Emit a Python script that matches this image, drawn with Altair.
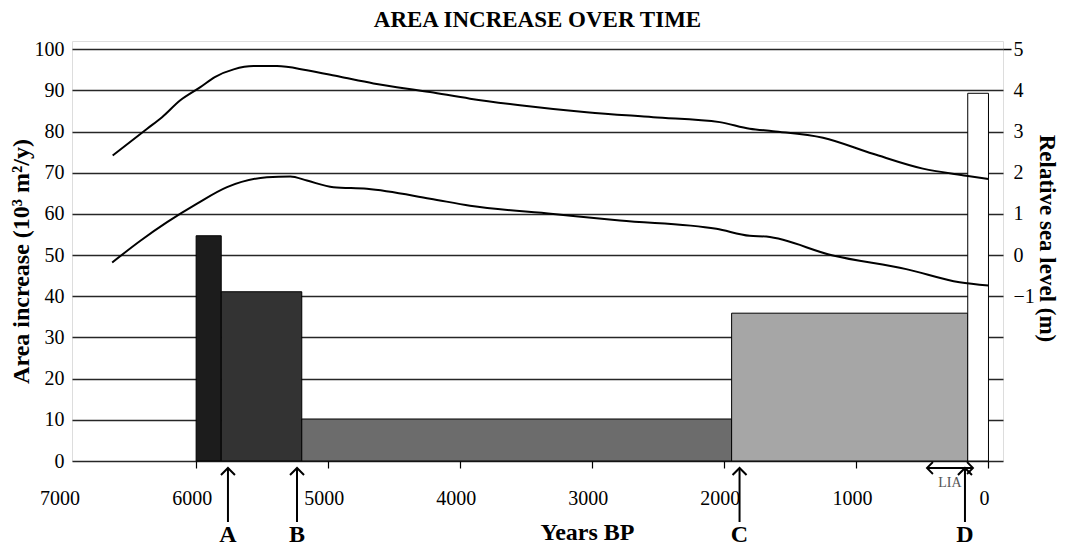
import altair as alt
import pandas as pd

SERIF = "Liberation Serif"

# ---- data ----
tick_years = [7000, 6000, 5000, 4000, 3000, 2000, 1000, 0]
axis_tick_years = [6000, 5000, 4000, 3000, 2000, 1000, 0]

bar_ids = ["p1", "p2", "p3", "p4", "p5"]
bar_start = [6000, 5810, 5200, 1945, 157]
bar_end = [5810, 5200, 1945, 157, 0]
bar_value = [54.7, 41.1, 10.2, 35.9, 89.3]
bar_colors = ["#1c1c1c", "#333333", "#6c6c6c", "#a6a6a6", "#ffffff"]

upper_years = [6632, 6371, 6258, 6120, 5968, 5855, 5716, 5565, 5388, 5161, 4909, 4657,
               4228, 3926, 3548, 3043, 2539, 2035, 1808, 1632, 1253, 875, 497, 169, 0]
upper_level = [2.42, 3.07, 3.35, 3.76, 4.08, 4.33, 4.51, 4.59, 4.59, 4.49, 4.33, 4.17,
               3.96, 3.80, 3.64, 3.47, 3.35, 3.23, 3.07, 3.01, 2.85, 2.46, 2.10, 1.93, 1.85]
lower_years = [6636, 6422, 6220, 5993, 5766, 5464, 5287, 5161, 4960, 4707, 4228, 3926,
               3296, 2791, 2060, 1808, 1682, 1178, 623, 219, 0]
lower_level = [-0.18, 0.35, 0.80, 1.25, 1.65, 1.89, 1.91, 1.81, 1.65, 1.61, 1.37, 1.20,
               1.00, 0.84, 0.64, 0.47, 0.45, -0.01, -0.34, -0.66, -0.74]

arrow_labels = ["A", "B", "C", "D"]
arrow_years = [5759, 5236, 1885, 178]
lia_start = [466]
lia_end = [117]
lia_label = ["LIA"]

# ---- tables ----
bars_df = pd.DataFrame({"id": bar_ids, "start": bar_start, "end": bar_end, "value": bar_value})
lines_df = pd.concat([
    pd.DataFrame({"series": "upper", "year": upper_years, "level": upper_level,
                  "idx": range(len(upper_years))}),
    pd.DataFrame({"series": "lower", "year": lower_years, "level": lower_level,
                  "idx": range(len(lower_years))}),
])
ticks_df = pd.DataFrame({"year": tick_years, "label": [str(t) for t in tick_years]})
arrows_df = pd.DataFrame({"year": arrow_years, "label": arrow_labels})
lia_df = pd.DataFrame({"start": lia_start, "end": lia_end, "label": lia_label,
                       "mid": [(a + b) / 2 for a, b in zip(lia_start, lia_end)]})

xs = alt.Scale(domain=[6940, -110], nice=False, zero=False)
x_axis = alt.Axis(values=axis_tick_years, labels=False, ticks=True, tickSize=7,
                  tickColor="black", tickWidth=1.2, domain=False, grid=False,
                  title="Years BP", titleFont=SERIF, titleFontSize=24, titleFontWeight="bold",
                  titleColor="black", titleX=515, titleY=78, titleBaseline="alphabetic")

left_axis = alt.Axis(values=list(range(0, 101, 10)), grid=True, gridColor="#262626",
                     gridWidth=1.5, ticks=False, domain=False, labelFont=SERIF,
                     labelFontSize=20, labelColor="black", labelPadding=8,
                     title="Area increase (10³ m²/y)", titleFont=SERIF, titleFontSize=24,
                     titleFontWeight="bold", titleColor="black", titlePadding=1, titleY=220)

right_axis = alt.Axis(orient="right", values=[-1, 0, 1, 2, 3, 4, 5], grid=False, domain=False,
                      ticks=True, tickSize=8, tickWidth=1.5,
                      tickColor=alt.condition("datum.value == 5", alt.value("black"),
                                              alt.value("transparent")),
                      labelFont=SERIF, labelFontSize=20, labelColor="black", labelPadding=2,
                      title="Relative sea level (m)", titleFont=SERIF, titleFontSize=23,
                      titleFontWeight="bold", titleColor="black", titlePadding=0, titleY=197)

bars = alt.Chart(bars_df).mark_rect(stroke="black", strokeWidth=1).encode(
    x=alt.X("start:Q", scale=xs, axis=x_axis),
    x2="end:Q",
    y=alt.Y("value:Q", scale=alt.Scale(domain=[0, 102], nice=False), axis=left_axis),
    y2=alt.datum(0),
    color=alt.Color("id:N", scale=alt.Scale(domain=bar_ids, range=bar_colors), legend=None),
)

lines = alt.Chart(lines_df).mark_line(interpolate="monotone", color="black", strokeWidth=2).encode(
    x=alt.X("year:Q", scale=xs, axis=x_axis),
    y=alt.Y("level:Q", scale=alt.Scale(domain=[-5, 5.2], nice=False), axis=right_axis),
    detail="series:N",
    order="idx:Q",
)

tick_text = alt.Chart(ticks_df).mark_text(font=SERIF, fontSize=20, baseline="alphabetic",
                                          dx=-4, color="black").encode(
    x=alt.X("year:Q", scale=xs, axis=x_axis),
    y=alt.value(464),
    text="label:N",
)

arrow_shaft = alt.Chart(arrows_df).mark_rule(color="black", strokeWidth=2).encode(
    x=alt.X("year:Q", scale=xs, axis=x_axis),
    y=alt.value(428),
    y2=alt.value(481),
)
arrow_head = alt.Chart(arrows_df).mark_point(shape="M-1,1L0,0L1,1", size=196, filled=False,
                                             color="black", strokeWidth=2, opacity=1).encode(
    x=alt.X("year:Q", scale=xs, axis=x_axis),
    y=alt.value(427),
)
arrow_text = alt.Chart(arrows_df).mark_text(font=SERIF, fontSize=24, fontWeight="bold",
                                            baseline="alphabetic", color="black").encode(
    x=alt.X("year:Q", scale=xs, axis=x_axis),
    y=alt.value(501),
    text="label:N",
)

lia_rule = alt.Chart(lia_df).mark_rule(color="black", strokeWidth=1.8).encode(
    x=alt.X("start:Q", scale=xs, axis=x_axis),
    x2="end:Q",
    y=alt.value(427),
)
lia_left = alt.Chart(lia_df).mark_point(shape="M1,-1L0,0L1,1", size=144, filled=False,
                                        color="black", strokeWidth=1.8, opacity=1).encode(
    x=alt.X("start:Q", scale=xs, axis=x_axis),
    y=alt.value(427),
)
lia_right = alt.Chart(lia_df).mark_point(shape="M-1,-1L0,0L-1,1", size=144, filled=False,
                                         color="black", strokeWidth=1.8, opacity=1).encode(
    x=alt.X("end:Q", scale=xs, axis=x_axis),
    y=alt.value(427),
)
lia_text = alt.Chart(lia_df).mark_text(font=SERIF, fontSize=14, color="#555555",
                                       baseline="middle").encode(
    x=alt.X("mid:Q", scale=xs, axis=x_axis),
    y=alt.value(442),
    text="label:N",
)

chart = alt.layer(
    bars, lines, tick_text, arrow_shaft, arrow_head, arrow_text,
    lia_rule, lia_left, lia_right, lia_text,
).resolve_scale(y="independent").properties(
    width=931,
    height=420,
    title=alt.Title("AREA INCREASE OVER TIME", font=SERIF, fontSize=23, fontWeight="bold",
                    color="black", anchor="middle", offset=7),
    autosize=alt.AutoSizeParams(type="none"),
    padding={"left": 64, "top": 33, "right": 58, "bottom": 86},
).configure_view(stroke="#222222", strokeWidth=1.5).configure(background="white")

chart.save("out.html", embed_options={"renderer": "svg", "actions": False})
